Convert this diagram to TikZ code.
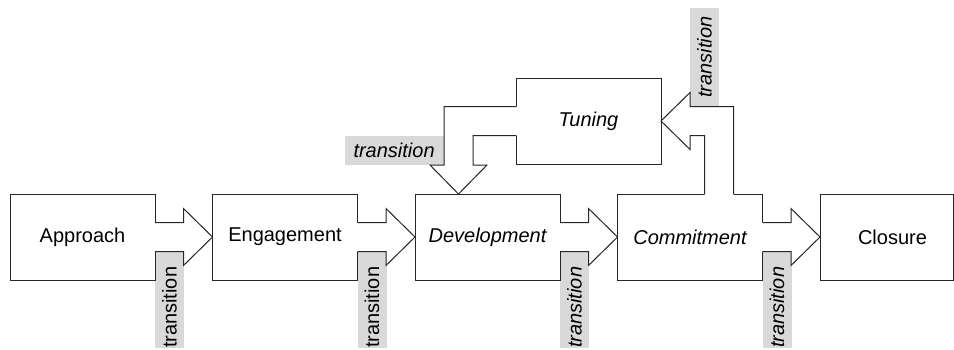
\documentclass[tikz,border=0pt]{standalone}
\usepackage{fontspec}
\setmainfont{Liberation Sans}
\usetikzlibrary{positioning,calc,backgrounds}

\tikzset{
  stage/.style={draw=black!85, line width=0.5pt, minimum width=72.5pt, minimum height=43pt, inner sep=0pt, outer sep=0pt},
  edge/.style={draw=black!85, line width=0.5pt},
  tlabel/.style={fill=black!15, inner sep=0pt, minimum height=14.5pt, text width=48pt, align=left},
}

\begin{document}
\begin{tikzpicture}[x=0.5pt, y=-0.5pt, font=\fontsize{10}{12}\selectfont, node distance=28.75pt]
  \useasboundingbox (0,0) rectangle (954,349);

  % stages
  \node[stage] (app) at (82.5,237) {Approach};
  \node[stage, right=of app] (eng) {Engagement};
  \node[stage, right=of eng] (dev) {\itshape Development};
  \node[stage, right=of dev] (com) {\itshape Commitment};
  \node[stage, right=of com, minimum width=66.5pt] (clo) {\hspace*{6pt}Closure};
  \node[stage] (tun) at (588.5,121) {\itshape Tuning};

  % forward transitions
  \foreach \a/\b/\s in {app/eng/\upshape, eng/dev/\upshape, dev/com/\itshape, com/clo/\itshape} {
    \begin{scope}[on background layer]
      \node[tlabel, rotate=90, anchor=east] (lab-\a) at ($(\a.east)+(14.5,14.5)$) {\s transition};
    \end{scope}
    \fill[white] ($(\a.east)+(-1,-14.5)$) -- ($(\b.west)+(-29,-14.5)$) -- ($(\b.west)+(-29,-28.5)$) -- (\b.west)
      -- ($(\b.west)+(-29,28.5)$) -- ($(\b.west)+(-29,14.5)$) -- ($(\a.east)+(-1,14.5)$) -- cycle;
    \draw[edge] ($(\a.east)+(0,-14.5)$) -- ($(\b.west)+(-29,-14.5)$) -- ($(\b.west)+(-29,-28.5)$) -- (\b.west)
      -- ($(\b.west)+(-29,28.5)$) -- ($(\b.west)+(-29,14.5)$) -- ($(\a.east)+(0,14.5)$);
  }

  % tuning -> development
  \coordinate (td) at ($(dev.north)+(-29,0)$);
  \coordinate (tb) at (td |- tun.west);
  \begin{scope}[on background layer]
    \node[tlabel, text width=49.5pt, align=center, anchor=north east] (lab-tun) at ($(tb)+(-14.5,14.5)$) {\itshape transition};
  \end{scope}
  \fill[white] ($(tun.west)+(1,-14.5)$) -- ($(tb)+(-14.5,-14.5)$) -- ($(td)+(-14.5,-29)$) -- ($(td)+(-28.5,-29)$) -- (td)
    -- ($(td)+(28.5,-29)$) -- ($(td)+(14.5,-29)$) -- ($(tb)+(14.5,14.5)$) -- ($(tun.west)+(1,14.5)$) -- cycle;
  \draw[edge] ($(tun.west)+(0,-14.5)$) -- ($(tb)+(-14.5,-14.5)$) -- ($(td)+(-14.5,-29)$) -- ($(td)+(-28.5,-29)$) -- (td)
    -- ($(td)+(28.5,-29)$) -- ($(td)+(14.5,-29)$) -- ($(tb)+(14.5,14.5)$) -- ($(tun.west)+(0,14.5)$);

  % commitment -> tuning
  \coordinate (cb) at ($(com.north)+(29,0)$);
  \coordinate (ck) at (cb |- tun.east);
  \begin{scope}[on background layer]
    \node[tlabel, rotate=90, text width=49pt, align=center, anchor=west] (lab-com2) at ($(ck)+(-14.5,-14.5)$) {\itshape transition};
  \end{scope}
  \fill[white] ($(cb)+(-14.5,1)$) -- ($(ck)+(-14.5,14.5)$) -- ($(tun.east)+(29,14.5)$) -- ($(tun.east)+(29,28.5)$) -- (tun.east)
    -- ($(tun.east)+(29,-28.5)$) -- ($(tun.east)+(29,-14.5)$) -- ($(ck)+(14.5,-14.5)$) -- ($(cb)+(14.5,1)$) -- cycle;
  \draw[edge] ($(cb)+(-14.5,0)$) -- ($(ck)+(-14.5,14.5)$) -- ($(tun.east)+(29,14.5)$) -- ($(tun.east)+(29,28.5)$) -- (tun.east)
    -- ($(tun.east)+(29,-28.5)$) -- ($(tun.east)+(29,-14.5)$) -- ($(ck)+(14.5,-14.5)$) -- ($(cb)+(14.5,0)$);
\end{tikzpicture}
\end{document}
